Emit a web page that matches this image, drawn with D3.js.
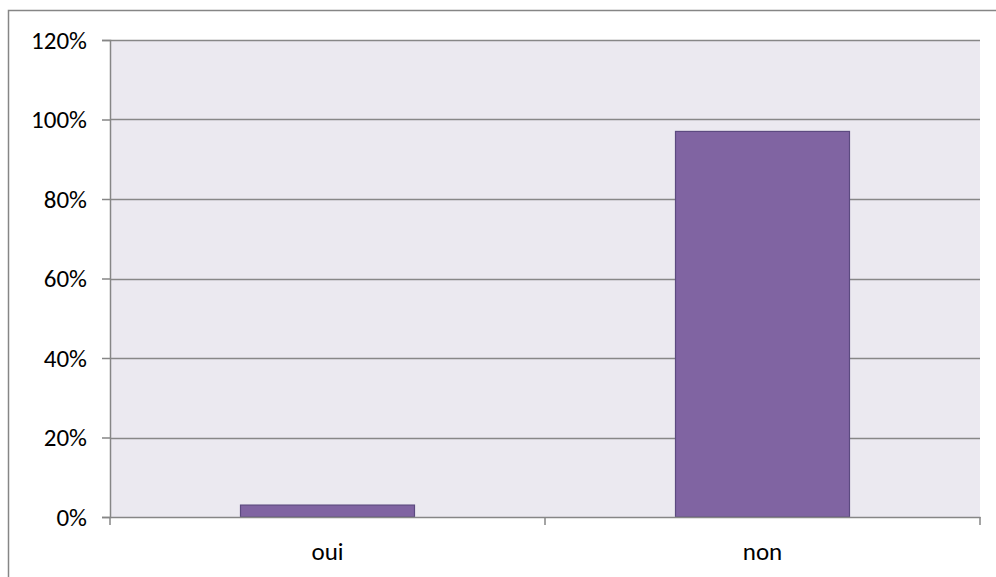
<!DOCTYPE html>
<html>
<head>
<meta charset="utf-8">
<script src="https://cdn.jsdelivr.net/npm/d3@7"></script>
<style>
  html, body { margin: 0; padding: 0; background: #ffffff; }
  svg { display: block; }
  text { font-family: Carlito, Calibri, Lato, "Open Sans", sans-serif; fill: #000; }
</style>
</head>
<body>
<svg id="chart" width="996" height="577"></svg>
<script>
// Réponses au sondage
const categories = ["oui", "non"];
const values = [0.03, 0.97];
const yTicks = [0, 0.2, 0.4, 0.6, 0.8, 1.0, 1.2];

const W = 996, H = 577;
const plot = { left: 110, top: 40, right: 980, bottom: 517 };

const svg = d3.select("#chart");

// Chart frame
svg.append("rect")
  .attr("x", 8.5).attr("y", 10.5)
  .attr("width", W + 20).attr("height", H + 20)
  .attr("fill", "#ffffff")
  .attr("stroke", "#868686").attr("stroke-width", 1.5);

const x = d3.scaleBand()
  .domain(categories)
  .range([plot.left, plot.right])
  .paddingInner(0.6)
  .paddingOuter(0.3);

const y = d3.scaleLinear()
  .domain([0, 1.2])
  .range([plot.bottom, plot.top]);

// Plot background
svg.append("rect")
  .attr("x", plot.left).attr("y", plot.top)
  .attr("width", plot.right - plot.left)
  .attr("height", plot.bottom - plot.top)
  .attr("fill", "#ebe9f0");

// Horizontal grid lines
svg.append("g")
  .selectAll("line")
  .data(yTicks.filter(d => d > 0))
  .join("line")
  .attr("x1", plot.left).attr("x2", plot.right)
  .attr("y1", d => Math.round(y(d)) + 0.5)
  .attr("y2", d => Math.round(y(d)) + 0.5)
  .attr("stroke", "#878787").attr("stroke-width", 1.5);

// Bars
svg.append("g")
  .selectAll("rect")
  .data(values)
  .join("rect")
  .attr("x", (d, i) => x(categories[i]))
  .attr("width", x.bandwidth())
  .attr("y", d => y(d))
  .attr("height", d => y(0) - y(d))
  .attr("fill", "#8064a2")
  .attr("stroke", "#5c4a80").attr("stroke-width", 1.2);

// Y axis
const yAxis = d3.axisLeft(y)
  .tickValues(yTicks)
  .tickFormat(d3.format(".0%"))
  .tickSize(8)
  .tickPadding(15);

const gy = svg.append("g")
  .attr("transform", `translate(${plot.left},0)`)
  .call(yAxis);
gy.select(".domain").attr("stroke", "#868686").attr("stroke-width", 1.5);
gy.selectAll(".tick line").attr("stroke", "#868686").attr("stroke-width", 1.5);
gy.selectAll(".tick text")
  .style("font-size", "25px")
  .attr("fill", "#000");

// X axis
const xAxis = d3.axisBottom(x).tickSize(0).tickPadding(25);
const gx = svg.append("g")
  .attr("transform", `translate(0,${plot.bottom})`)
  .call(xAxis);
gx.select(".domain").attr("stroke", "#868686").attr("stroke-width", 1.5);
gx.selectAll(".tick text")
  .style("font-size", "25px")
  .attr("fill", "#000");

// Category boundary ticks on the x axis
const boundaries = [plot.left, (plot.left + plot.right) / 2, plot.right];
svg.append("g")
  .selectAll("line")
  .data(boundaries)
  .join("line")
  .attr("x1", d => d).attr("x2", d => d)
  .attr("y1", plot.bottom).attr("y2", plot.bottom + 8)
  .attr("stroke", "#868686").attr("stroke-width", 1.5);
</script>
</body>
</html>
